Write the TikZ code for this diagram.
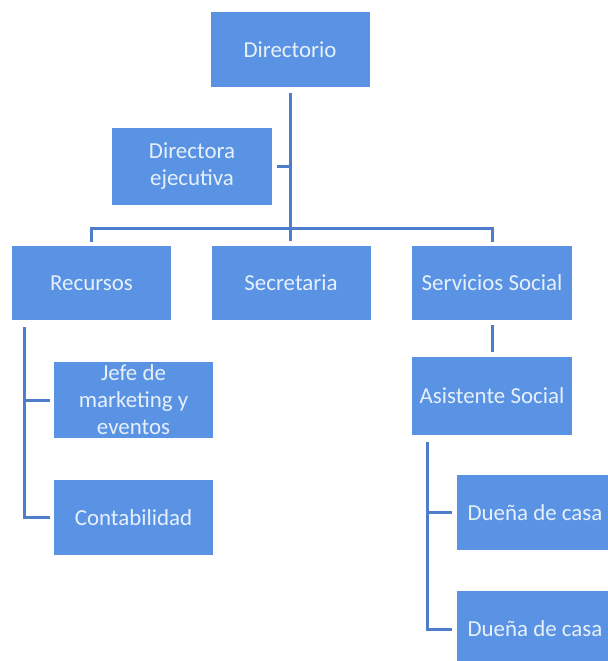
\documentclass[tikz,border=0pt]{standalone}
\usepackage{fontspec}
\setmainfont{Carlito}
\usetikzlibrary{calc}
\definecolor{boxblue}{HTML}{5B93E4}
\definecolor{lineblue}{HTML}{4E7DCB}
\definecolor{txtc}{HTML}{E6F0FA}
\begin{document}
\begin{tikzpicture}[x=1bp,y=-1bp,
  box/.style={fill=boxblue, draw=none, text=txtc, align=center, inner sep=0pt,
    font=\fontsize{23}{27}\selectfont, minimum width=159bp, minimum height=75bp},
  conn/.style={draw=lineblue, line width=3bp}]
\useasboundingbox (0,0) rectangle (608,661);
\clip (0,0) rectangle (608,661);
\fill[white] (0,0) rectangle (608,661);
% nodes
\node[box] (dir) at (290,49.5) {Directorio};
\node[box, minimum width=160bp, minimum height=77bp] (dej) at (192,166.5) {Directora\\ejecutiva};
\node[box, minimum height=74bp] (rec) at (91.5,283) {Recursos};
\node[box, minimum height=74bp] (sec) at (291,283) {Secretaria};
\node[box, minimum width=160bp, minimum height=74bp] (ser) at (492,283) {Servicios Social};
\node[box, minimum height=76bp] (jefe) at (133.5,400) {Jefe de\\marketing y\\eventos};
\node[box] (cont) at (133.5,517.5) {Contabilidad};
\node[box, minimum width=160bp, minimum height=78bp] (asis) at (492,396) {Asistente Social};
\node[box, minimum width=156bp] (due1) at (535,512.5) {Dueña de casa};
\node[box, minimum width=156bp, minimum height=76bp] (due2) at (535,629) {Dueña de casa};
% connectors
\coordinate (hb) at (0,228);
\coordinate (rs) at (24,0);
\coordinate (as) at (427,0);
\draw[conn] ($(dir.south)+(0,6)$) -- ($(dir.south |- hb)+(0,13)$);
\draw[conn] ($(rec.north)+(0,-4)$) -- (rec.north |- hb) -- (ser.north |- hb) -- ($(ser.north)+(0,-4)$);
\draw[conn] ($(dej.east)+(5,0)$) -- (dej.east -| dir.south);
\draw[conn] ($(rec.south -| rs)+(0,7)$) -- (cont.west -| rs) -- ($(cont.west)+(-4,0)$);
\draw[conn] (jefe.west -| rs) -- ($(jefe.west)+(-4,0)$);
\draw[conn] ($(ser.south)+(0,5)$) -- ($(asis.north)+(0,-5)$);
\draw[conn] ($(asis.south -| as)+(0,7)$) -- (due2.west -| as) -- ($(due2.west)+(-5,0)$);
\draw[conn] (due1.west -| as) -- ($(due1.west)+(-5,0)$);
\end{tikzpicture}
\end{document}
